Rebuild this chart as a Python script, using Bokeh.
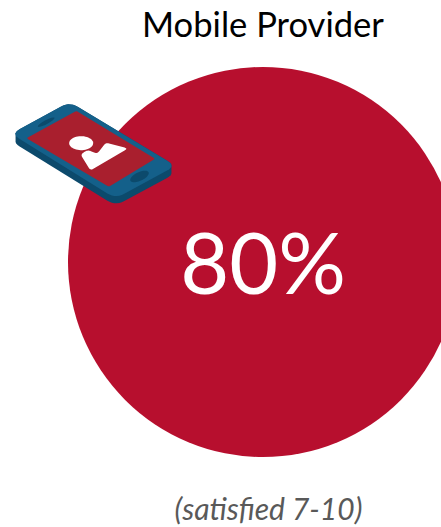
from bokeh.core.properties import value
from bokeh.embed import file_html
from bokeh.models import Range1d
from bokeh.plotting import figure
from bokeh.resources import INLINE
import numpy as np

# Chart content
title_text = "Mobile Provider"
satisfied_pct = 80
caption_text = "(satisfied 7-10)"

# Disc geometry, in page pixels
disc_x = [262.5]
disc_y = [261.5]
disc_radius = [195]

RED = "#b70f2e"
PHONE_TOP = "#14608a"
PHONE_SIDE = "#0c4a6c"
PHONE_SCREEN = "#a91f2e"

# Phone outline drawn on a 3x working grid, offset onto the page
phone_corners = [(32, 130), (207, 34), (526, 226), (345, 324)]
screen_corners = [(78, 143), (228, 61), (464, 205), (325, 289)]
bust_corners = [(240, 192), (262, 178), (290, 190), (316, 156), (382, 174), (270, 240)]
THICKNESS = 22


def to_page(pts):
    arr = np.asarray(pts, dtype=float)
    return arr[:, 0] / 3, arr[:, 1] / 3 + 90


def rounded(corners, r):
    out = []
    n = len(corners)
    c = np.asarray(corners, dtype=float)
    for i in range(n):
        p, a, b = c[i], c[i - 1], c[(i + 1) % n]
        u = (a - p) / np.linalg.norm(a - p)
        v = (b - p) / np.linalg.norm(b - p)
        s, e = p + u * r, p + v * r
        for t in np.linspace(0, 1, 8):
            out.append((1 - t) ** 2 * s + 2 * t * (1 - t) * p + t ** 2 * e)
    return np.array(out)


def hull(points):
    pts = sorted(map(tuple, points))
    def half(seq):
        h = []
        for q in seq:
            while len(h) > 1 and (h[-1][0] - h[-2][0]) * (q[1] - h[-2][1]) - (h[-1][1] - h[-2][1]) * (q[0] - h[-2][0]) <= 0:
                h.pop()
            h.append(q)
        return h[:-1]
    return half(pts) + half(pts[::-1])


def ellipse(cx, cy, rx, ry, angle):
    t = np.linspace(0, 2 * np.pi, 48)
    a = np.radians(angle)
    x = rx * np.cos(t)
    y = ry * np.sin(t)
    return np.column_stack([cx + x * np.cos(a) - y * np.sin(a), cy + x * np.sin(a) + y * np.cos(a)])


p = figure(width=441, height=527, output_backend="svg", toolbar_location=None,
           x_range=Range1d(0, 441), y_range=Range1d(527, 0), min_border=0)
p.axis.visible = False
p.grid.visible = False
p.outline_line_color = None
p.background_fill_color = "white"

p.circle(disc_x, disc_y, radius=disc_radius, fill_color=RED, line_color=None)

top = rounded(phone_corners, 30)
side = np.array(hull(np.vstack([top, top + [0, THICKNESS]])))
for shape, color in [
    (side, PHONE_SIDE),
    (top, PHONE_TOP),
    (rounded(screen_corners, 6), PHONE_SCREEN),
    (ellipse(137, 95, 28, 6, -28), PHONE_SIDE),
    (ellipse(417, 258, 30, 13, -25), PHONE_SIDE),
    (rounded(bust_corners, 10), "white"),
    (ellipse(242, 158, 36, 21, 0), "white"),
]:
    xs, ys = to_page(shape)
    p.patch(xs, ys, fill_color=color, line_color=None)

p.text([262.5], [23], text=[title_text], text_font=value("Lato"), text_font_size="34.6px",
       text_align="center", text_baseline="middle", text_color="#000000")
p.text([262.5], [261], text=[f"{satisfied_pct}%"], text_font=value("Lato"), text_font_size="84.5px",
       text_align="center", text_baseline="middle", text_color="#ffffff")
p.text([268], [507], text=[caption_text], text_font=value("Lato"), text_font_size="30px",
       text_font_style="italic", text_align="center", text_baseline="middle", text_color="#595959")

open("out.html", "w").write(file_html(p, INLINE))
